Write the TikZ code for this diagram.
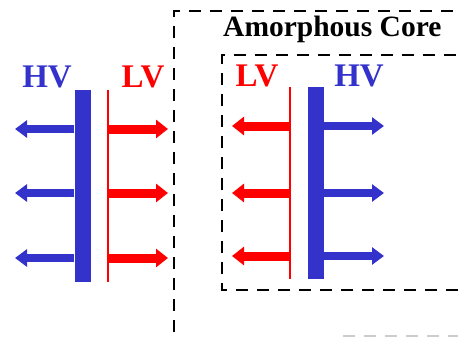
\documentclass[tikz,border=0pt]{standalone}
\usepackage{fontspec}
\setmainfont{Liberation Serif}
\usetikzlibrary{arrows.meta}
\definecolor{hvblue}{RGB}{51,51,204}
\definecolor{lvred}{RGB}{255,0,0}
\tikzset{
  lbl/.style={font=\bfseries\fontsize{33}{33}\selectfont, inner sep=0pt},
  title/.style={font=\bfseries\fontsize{29.5}{30}\selectfont, inner sep=0pt},
  hvbar/.style={draw=none, fill=hvblue, inner sep=0pt, minimum width=16pt, minimum height=192pt},
  lvline/.style={draw=none, fill=lvred, inner sep=0pt, minimum width=2pt, minimum height=192pt},
  hvarr/.style={hvblue, line width=8pt, -{Triangle[length=12pt,width=17pt]}},
  lvarr/.style={lvred, line width=9pt, -{Triangle[length=12pt,width=18pt]}},
  corebox/.style={dash pattern=on 12pt off 9pt, line width=1.6pt}
}
\begin{document}
\begin{tikzpicture}[x=1pt,y=-1pt]
\useasboundingbox (0,0) rectangle (458,337);
% outer and inner dashed boxes (open to the right)
\draw[corebox] (174,332) -- (174,11) -- (458,11);
\draw[corebox] (458,290) -- (222,290) -- (222,55) -- (458,55);
\draw[corebox, gray!40] (343,336) -- (458,336);
\node[title, anchor=base west] (amc) at (223,37) {Amorphous Core};
% left group
\node[hvbar] (hvL) at (82.5,186) {};
\node[lvline] (lvL) at (108,186) {};
\node[lbl, text=hvblue] (hvLt) at (47,77) {HV};
\node[lbl, text=lvred] (lvLt) at (143,77) {LV};
\foreach \i/\y in {1/129,2/193,3/258}{
  \coordinate (hl\i) at (15,\y);
  \coordinate (rl\i) at (168,\y);
  \draw[hvarr] (hvL.west |- hl\i) -- (hl\i);
  \draw[lvarr] (lvL.center |- rl\i) -- (rl\i);
}
% right group
\node[lvline] (lvR) at (290,183) {};
\node[hvbar] (hvR) at (315.5,183) {};
\node[lbl, text=lvred] (lvRt) at (257,76) {LV};
\node[lbl, text=hvblue] (hvRt) at (359,76) {HV};
\foreach \i/\y in {1/126,2/193,3/256}{
  \coordinate (lr\i) at (232,\y);
  \coordinate (hr\i) at (384,\y);
  \draw[lvarr] (lvR.center |- lr\i) -- (lr\i);
  \draw[hvarr] (hvR.east |- hr\i) -- (hr\i);
}
\end{tikzpicture}
\end{document}
